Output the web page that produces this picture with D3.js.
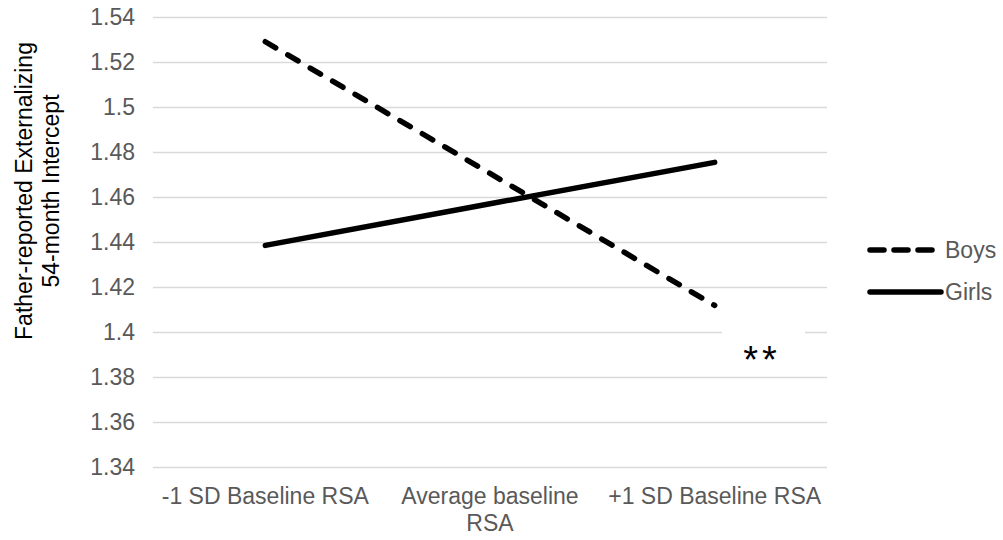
<!DOCTYPE html>
<html>
<head>
<meta charset="utf-8">
<script src="https://cdn.jsdelivr.net/npm/d3@7"></script>
<style>
    body { margin: 0; background: #fff; }
    #chart { width: 1003px; height: 540px; }
    text { font-family: "Liberation Sans", Arial, sans-serif; }
</style>
</head>
<body>
<div id="chart"></div>
<script>
const categories = ["-1 SD Baseline RSA", "Average baseline RSA", "+1 SD Baseline RSA"];
const categoryLines = [["-1 SD Baseline RSA"], ["Average baseline", "RSA"], ["+1 SD Baseline RSA"]];
const boys = [1.529, 1.4705, 1.4118];
const girls = [1.4385, 1.457, 1.4754];
const yTicks = [1.34, 1.36, 1.38, 1.4, 1.42, 1.44, 1.46, 1.48, 1.5, 1.52, 1.54];
const seriesNames = ["Boys", "Girls"];

function renderChart(selector) {
    const container = d3.select(selector);
    const W = 1003, H = 540;
    const margin = {top: 17, right: 176, bottom: 73, left: 153};
    const width = W - margin.left - margin.right;
    const height = H - margin.top - margin.bottom;

    const svg = container.append("svg")
        .attr("width", W)
        .attr("height", H)
        .append("g")
        .attr("transform", `translate(${margin.left}, ${margin.top})`);

    const x = d3.scalePoint()
        .domain(categories)
        .range([0, width])
        .padding(0.5);

    const y = d3.scaleLinear()
        .domain([1.34, 1.54])
        .range([height, 0]);

    // gridlines
    svg.append("g")
        .attr("class", "grid")
        .call(d3.axisLeft(y).tickValues(yTicks).tickSize(-width).tickFormat(""))
        .call(g => g.select(".domain").remove())
        .selectAll("line")
        .attr("stroke", "#d9d9d9")
        .attr("stroke-width", 1.3);

    // y tick labels
    svg.append("g")
        .attr("class", "axis axis-y")
        .call(d3.axisLeft(y).tickValues(yTicks).tickSize(0).tickPadding(18).tickFormat(d3.format("")))
        .call(g => g.select(".domain").remove())
        .selectAll("text")
        .attr("fill", "#595959")
        .style("font-size", "23px")
        .style("font-family", "Liberation Sans, Arial, sans-serif");

    // x labels
    const xl = svg.append("g")
        .attr("class", "axis axis-x")
        .selectAll("text")
        .data(categories)
        .enter()
        .append("text")
        .attr("x", d => x(d))
        .attr("y", height + 37)
        .attr("text-anchor", "middle")
        .attr("fill", "#595959")
        .style("font-size", "23px");
    xl.selectAll("tspan")
        .data((d, i) => categoryLines[i])
        .enter()
        .append("tspan")
        .attr("x", function() { return d3.select(this.parentNode).attr("x"); })
        .attr("dy", (d, i) => i === 0 ? 0 : 27)
        .text(d => d);

    // y title
    svg.append("text")
        .attr("transform", `translate(${32 - margin.left}, ${191 - margin.top}) rotate(-90)`)
        .attr("text-anchor", "middle")
        .attr("fill", "#000")
        .style("font-size", "23px")
        .selectAll("tspan")
        .data(["Father-reported Externalizing", "54-month Intercept"])
        .enter()
        .append("tspan")
        .attr("x", 0)
        .attr("dy", (d, i) => i === 0 ? 0 : 27)
        .text(d => d);

    // lines
    const line = d3.line()
        .x((d, i) => x(categories[i]))
        .y(d => y(d));

    svg.append("path")
        .datum(girls)
        .attr("d", line)
        .attr("fill", "none")
        .attr("stroke", "#000")
        .attr("stroke-width", 5.5)
        .attr("stroke-linecap", "round");

    svg.append("path")
        .datum(boys)
        .attr("d", line)
        .attr("fill", "none")
        .attr("stroke", "#000")
        .attr("stroke-width", 5.5)
        .attr("stroke-linecap", "round")
        .attr("stroke-dasharray", "12,14");

    // significance marker
    svg.append("rect")
        .attr("x", 722 - margin.left)
        .attr("y", 325 - margin.top)
        .attr("width", 83)
        .attr("height", 46)
        .attr("fill", "#fff");

    svg.append("text")
        .attr("x", 762 - margin.left)
        .attr("y", 373 - margin.top)
        .attr("text-anchor", "middle")
        .attr("fill", "#000")
        .attr("letter-spacing", 4)
        .style("font-size", "38px")
        .text("**");

    // legend
    const legend = svg.append("g")
        .attr("transform", `translate(${870 - margin.left}, ${250 - margin.top})`);

    seriesNames.forEach((name, i) => {
        const row = legend.append("g").attr("transform", `translate(0, ${i * 42})`);
        row.append("line")
            .attr("x1", 0)
            .attr("x2", i === 0 ? 63 : 71)
            .attr("y1", 0)
            .attr("y2", 0)
            .attr("stroke", "#000")
            .attr("stroke-width", 5.5)
            .attr("stroke-linecap", "round")
            .attr("stroke-dasharray", i === 0 ? "14,10" : null);
        row.append("text")
            .attr("x", 75)
            .attr("y", 8)
            .attr("fill", "#595959")
            .style("font-size", "23px")
            .text(name);
    });
}

renderChart("#chart");
</script>
</body>
</html>
